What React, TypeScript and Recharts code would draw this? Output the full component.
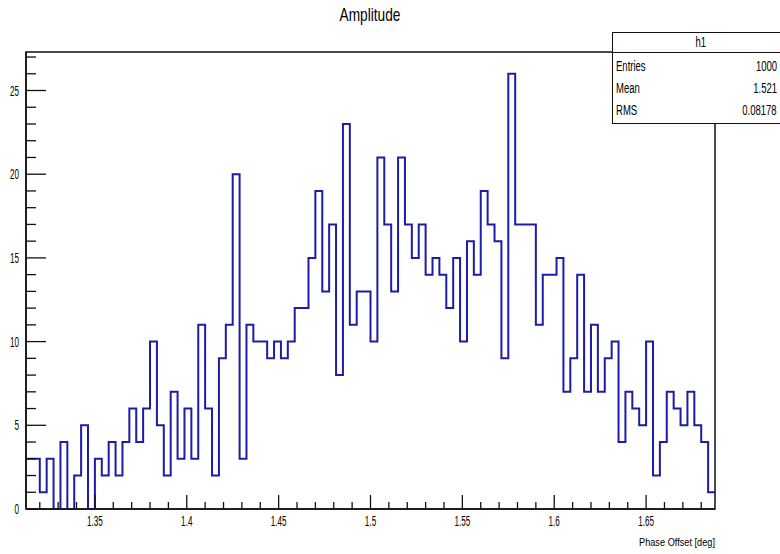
import React from 'react';
import { LineChart, Line, XAxis, YAxis, ReferenceArea } from 'recharts';

const X_MIN = 1.3125;
const X_MAX = 1.6875;
const Y_MAX = 27.3;

const counts = [
  3, 3, 1, 3, 0, 4, 0, 2, 5, 0,
  3, 2, 4, 2, 4, 6, 4, 6, 10, 5,
  2, 7, 3, 6, 3, 11, 6, 2, 9, 11,
  20, 3, 11, 10, 10, 9, 10, 9, 10, 12,
  12, 15, 19, 13, 17, 8, 23, 11, 13, 13,
  10, 21, 17, 13, 21, 17, 15, 17, 14, 15,
  14, 12, 15, 10, 16, 14, 19, 17, 16, 9,
  26, 17, 17, 17, 11, 14, 14, 15, 7, 9,
  14, 7, 11, 7, 9, 10, 4, 7, 6, 5,
  10, 2, 4, 7, 6, 5, 7, 5, 4, 1,
];

const xMajorTicks = [1.35, 1.4, 1.45, 1.5, 1.55, 1.6, 1.65];
const xMinorTicks = [
  1.32, 1.33, 1.34, 1.36, 1.37, 1.38, 1.39, 1.41, 1.42, 1.43, 1.44,
  1.46, 1.47, 1.48, 1.49, 1.51, 1.52, 1.53, 1.54, 1.56, 1.57, 1.58, 1.59,
  1.61, 1.62, 1.63, 1.64, 1.66, 1.67, 1.68,
];
const yMajorTicks = [0, 5, 10, 15, 20, 25];
const yMinorTicks = [1, 2, 3, 4, 6, 7, 8, 9, 11, 12, 13, 14, 16, 17, 18, 19, 21, 22, 23, 24, 26, 27];

const title = 'Amplitude';
const xTitle = 'Phase Offset [deg]';
const statsName = 'h1';
const statsLabels = ['Entries', 'Mean', 'RMS'];
const statsValues = ['1000', '1.521', '0.08178'];

const binWidth = (X_MAX - X_MIN) / counts.length;
const data = counts.map((c, i) => ({ x: X_MIN + i * binWidth, count: c }));
data.push({ x: X_MAX, count: counts[counts.length - 1] });

const xTicks = [...xMajorTicks, ...xMinorTicks].sort((a, b) => a - b);
const yTicks = [...yMajorTicks, ...yMinorTicks].sort((a, b) => a - b);

const FONT = '"Liberation Sans", Arial, Helvetica, sans-serif';

const SqText = ({ x, y, anchor, size, sx, children }: any) => (
  <text
    transform={`translate(${x},${y}) scale(${sx},1)`}
    textAnchor={anchor}
    fontSize={size}
    fontFamily={FONT}
    fill="#000"
  >
    {children}
  </text>
);

const XTick = (props: any) => {
  const { x, y, payload } = props;
  const major = xMajorTicks.includes(payload.value);
  return (
    <g>
      <line x1={x} y1={y} x2={x} y2={y - (major ? 14 : 7)} stroke="#111" strokeWidth={1.3} />
      {major && (
        <SqText x={x} y={y + 17} anchor="middle" size={14} sx={0.58}>
          {String(payload.value)}
        </SqText>
      )}
    </g>
  );
};

const YTick = (props: any) => {
  const { x, y, payload } = props;
  const major = yMajorTicks.includes(payload.value);
  return (
    <g>
      <line x1={x} y1={y} x2={x + (major ? 20 : 10)} y2={y} stroke="#111" strokeWidth={1.3} />
      {major && (
        <SqText x={x - 7} y={y + 5} anchor="end" size={14} sx={0.58}>
          {String(payload.value)}
        </SqText>
      )}
    </g>
  );
};

const XTitle = (props: any) => {
  const vb = props.viewBox || {};
  return (
    <SqText x={vb.x + vb.width} y={vb.y + 37} anchor="end" size={11.5} sx={0.8}>
      {xTitle}
    </SqText>
  );
};

const sq = (sx: number, origin: string): React.CSSProperties => ({
  display: 'inline-block',
  transform: `scaleX(${sx})`,
  transformOrigin: origin,
  whiteSpace: 'nowrap',
});

export default function App() {
  return (
    <div style={{ position: 'absolute', left: 0, top: 0, width: 780, height: 554, background: '#fff', overflow: 'hidden' }}>
      <LineChart
        width={780}
        height={554}
        data={data}
        margin={{ top: 52, right: 65, bottom: 0, left: 0 }}
      >
        <XAxis
          dataKey="x"
          type="number"
          domain={[X_MIN, X_MAX]}
          ticks={xTicks}
          interval={0}
          tickLine={false}
          tickSize={0}
          tickMargin={0}
          tick={<XTick />}
          height={45}
          axisLine={{ stroke: '#111', strokeWidth: 1.5 }}
          allowDataOverflow
          label={<XTitle />}
        />
        <YAxis
          type="number"
          domain={[0, Y_MAX]}
          ticks={yTicks}
          interval={0}
          tickLine={false}
          tickSize={0}
          tickMargin={0}
          tick={<YTick />}
          width={26}
          axisLine={{ stroke: '#111', strokeWidth: 1.5 }}
          allowDataOverflow
        />
        <ReferenceArea
          x1={X_MIN}
          x2={X_MAX}
          y1={0}
          y2={Y_MAX}
          fill="none"
          fillOpacity={0}
          stroke="#111"
          strokeWidth={1.5}
          ifOverflow="visible"
        />
        <Line
          dataKey="count"
          type="stepAfter"
          stroke="#1c1ca8"
          strokeWidth={2}
          dot={false}
          activeDot={false}
          isAnimationActive={false}
        />
      </LineChart>

      <div
        style={{
          position: 'absolute',
          left: 370,
          top: 4,
          fontFamily: FONT,
          fontSize: 19,
          lineHeight: '22px',
          color: '#000',
          transform: 'translateX(-50%) scaleX(0.72)',
          whiteSpace: 'nowrap',
        }}
      >
        {title}
      </div>

      <div
        style={{
          position: 'absolute',
          left: 612,
          top: 32,
          width: 176,
          height: 92,
          boxSizing: 'border-box',
          border: '1.5px solid #111',
          background: '#fff',
          fontFamily: FONT,
          fontSize: 14,
          color: '#000',
        }}
      >
        <div style={{ height: 19, borderBottom: '1.5px solid #111', position: 'relative' }}>
          <span style={{ position: 'absolute', left: 80, top: 1, ...sq(0.68, 'center') }}>{statsName}</span>
        </div>
        {statsLabels.map((lab, i) => (
          <div key={lab} style={{ position: 'absolute', left: 0, top: 25 + i * 22, width: '100%', height: 17 }}>
            <span style={{ position: 'absolute', left: 3, top: 0, ...sq(0.68, 'left') }}>{lab}</span>
            <span style={{ position: 'absolute', right: 10, top: 0, ...sq(0.68, 'right') }}>{statsValues[i]}</span>
          </div>
        ))}
      </div>
    </div>
  );
}
